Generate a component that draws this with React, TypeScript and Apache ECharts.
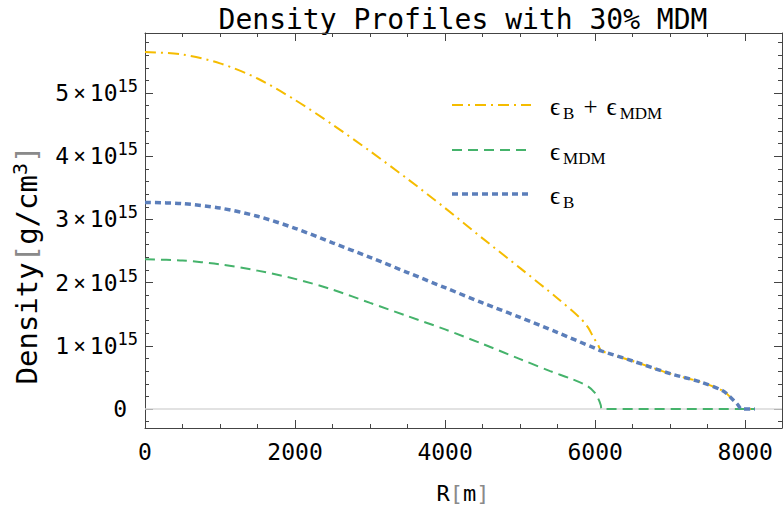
import React, { useEffect, useRef } from "react";
import * as echarts from "echarts";

// Density values in units of 1e15 g/cm^3, radius in metres
const radiusTotal = [0, 500, 1000, 1500, 2000, 2500, 3000, 3500, 4000, 4500, 5000, 5500, 5800, 5900, 5970, 6040, 6085, 6500, 7000, 7400, 7700, 7800, 7900, 7950, 8130];
const densityTotal = [5.65, 5.61, 5.47, 5.23, 4.89, 4.5, 4.08, 3.64, 3.18, 2.7, 2.23, 1.75, 1.44, 1.3, 1.15, 1.01, 0.92, 0.76, 0.56, 0.43, 0.29, 0.19, 0.07, 0, 0];

const radiusMDM = [0, 500, 1000, 1500, 2000, 2500, 3000, 3500, 4000, 4500, 5000, 5400, 5700, 5900, 6000, 6050, 6075, 6090, 8130];
const densityMDM = [2.37, 2.35, 2.29, 2.19, 2.06, 1.89, 1.68, 1.47, 1.26, 1.03, 0.79, 0.6, 0.47, 0.36, 0.25, 0.14, 0.06, 0, 0];

const radiusB = [0, 500, 1000, 1500, 2000, 2500, 3000, 3500, 4000, 4500, 5000, 5500, 6000, 6080, 6500, 7000, 7400, 7700, 7800, 7900, 7950, 8130];
const densityB = [3.27, 3.25, 3.18, 3.05, 2.86, 2.63, 2.4, 2.16, 1.92, 1.68, 1.45, 1.21, 0.96, 0.92, 0.76, 0.56, 0.43, 0.29, 0.19, 0.07, 0, 0];

const xMajorTicks = [0, 2000, 4000, 6000, 8000];
const yMajorTicks = [0, 1, 2, 3, 4, 5];
const X_MIN = 0;
const X_MAX = 8490;
const Y_MIN = -0.3;
const Y_MAX = 5.95;

const titleText = "Density Profiles with 30% MDM";
const legendLabels = [
  "{e|ϵ}{s|B}{p|+}{e|ϵ}{s|MDM}",
  "{e|ϵ}{s|MDM}",
  "{e|ϵ}{s|B}",
];

const COLOR_TOTAL = "#F5BC00";
const COLOR_MDM = "#45B36B";
const COLOR_B = "#5B7EBA";
const FRAME = "#444444";
const MONO = "DejaVu Sans Mono, monospace";
const SERIF = "Liberation Serif, DejaVu Serif, serif";

const zip = (xs: number[], ys: number[]) => xs.map((x, i) => [x, ys[i]]);

function minorValues(min: number, max: number, majorStep: number, parts: number): number[] {
  const out: number[] = [];
  const step = majorStep / parts;
  const start = Math.ceil(min / step);
  const end = Math.floor(max / step);
  for (let k = start; k <= end; k++) {
    if (k % parts !== 0) out.push(Math.round(k * step * 1000) / 1000);
  }
  return out;
}

export default function App() {
  const ref = useRef<HTMLDivElement>(null);
  useEffect(() => {
    if (!ref.current) return;
    const chart = echarts.init(ref.current, null, { renderer: "svg" });
    const lineStyle = { color: FRAME, width: 1 };
    const xMinor = minorValues(X_MIN, X_MAX, 2000, 4);
    const yMinor = minorValues(Y_MIN, Y_MAX, 1, 5);

    const xBase = {
      type: "value",
      min: X_MIN,
      max: X_MAX,
      splitLine: { show: false },
      minorTick: { show: false },
    };
    const yBase = {
      type: "value",
      min: Y_MIN,
      max: Y_MAX,
      splitLine: { show: false },
      minorTick: { show: false },
    };

    const legendLines = [
      { color: COLOR_TOTAL, width: 2, dash: [11, 5, 2, 5] },
      { color: COLOR_MDM, width: 2, dash: [10, 6] },
      { color: COLOR_B, width: 3.5, dash: [6, 4] },
    ];
    const legendY = [105, 150, 194];

    const graphics: any[] = [
      {
        type: "text",
        x: 463,
        y: 19,
        style: {
          text: titleText,
          font: `28px ${MONO}`,
          fill: "#000",
          textAlign: "center",
          textVerticalAlign: "middle",
        },
      },
      {
        type: "text",
        x: 27,
        y: 265,
        rotation: Math.PI / 2,
        style: {
          text: "Density{b|[}g/cm{sup|3}{b|]}",
          fontFamily: MONO,
          fontSize: 29,
          fill: "#000",
          align: "center",
          verticalAlign: "middle",
          rich: {
            b: { fontFamily: MONO, fontSize: 29, fill: "#8a8a8a" },
            sup: { fontFamily: MONO, fontSize: 20, padding: [0, 0, 15, 0] },
          },
        },
      },
      {
        type: "text",
        x: 463,
        y: 493,
        style: {
          text: "R{b|[}m{b|]}",
          fontFamily: MONO,
          fontSize: 22,
          fill: "#000",
          align: "center",
          verticalAlign: "middle",
          rich: {
            b: { fontFamily: MONO, fontSize: 22, fill: "#8a8a8a" },
          },
        },
      },
    ];
    legendLines.forEach((l, i) => {
      graphics.push({
        type: "line",
        shape: { x1: 452, y1: legendY[i], x2: 531, y2: legendY[i] },
        style: { stroke: l.color, lineWidth: l.width, lineDash: l.dash },
      });
      graphics.push({
        type: "text",
        x: 550,
        y: legendY[i] + 1,
        style: {
          text: legendLabels[i],
          fontFamily: SERIF,
          fontSize: 24,
          fill: "#000",
          align: "left",
          verticalAlign: "middle",
          rich: {
            e: { fontFamily: SERIF, fontSize: 25, fill: "#000" },
            p: { fontFamily: SERIF, fontSize: 25, fill: "#000", padding: [0, 9, 0, 9] },
            s: { fontFamily: SERIF, fontSize: 17, fill: "#000", padding: [14, 0, 0, 3] },
          },
        },
      });
    });

    const curve = (name: string, xs: number[], ys: number[], color: string, width: number, dash: number[], z: number) => ({
      name,
      type: "line",
      xAxisIndex: 0,
      yAxisIndex: 0,
      data: zip(xs, ys),
      symbol: "none",
      smooth: 0.3,
      z,
      lineStyle: { color, width, type: dash },
    });

    chart.setOption({
      animation: false,
      backgroundColor: "#ffffff",
      grid: { left: 145, right: 1, top: 33, bottom: 80, containLabel: false },
      xAxis: [
        {
          ...xBase,
          position: "bottom",
          axisLine: { show: true, onZero: false, lineStyle },
          axisTick: { show: true, inside: true, length: 8, lineStyle, customValues: xMajorTicks },
          axisLabel: {
            show: true,
            customValues: xMajorTicks,
            fontFamily: MONO,
            fontSize: 23,
            color: "#000",
            margin: 12,
            formatter: (v: number) => String(v),
          },
        },
        {
          ...xBase,
          position: "bottom",
          axisLine: { show: false, onZero: false },
          axisTick: { show: true, inside: true, length: 4, lineStyle, customValues: xMinor },
          axisLabel: { show: false },
        },
        {
          ...xBase,
          position: "top",
          axisLine: { show: true, onZero: false, lineStyle },
          axisTick: { show: true, inside: true, length: 8, lineStyle, customValues: xMajorTicks },
          axisLabel: { show: false },
        },
        {
          ...xBase,
          position: "top",
          axisLine: { show: false, onZero: false },
          axisTick: { show: true, inside: true, length: 4, lineStyle, customValues: xMinor },
          axisLabel: { show: false },
        },
      ],
      yAxis: [
        {
          ...yBase,
          position: "left",
          axisLine: { show: true, onZero: false, lineStyle },
          axisTick: { show: true, inside: true, length: 8, lineStyle, customValues: yMajorTicks },
          axisLabel: {
            show: true,
            customValues: yMajorTicks,
            fontFamily: MONO,
            fontSize: 23,
            color: "#000",
            margin: 7,
            formatter: (v: number) => (v === 0 ? "{z|0}" : `${v}{x|×}10{sup|15}`),
            rich: {
              z: { fontFamily: MONO, fontSize: 23, color: "#000", padding: [0, 11, 0, 0] },
              x: { fontFamily: MONO, fontSize: 21, color: "#000", padding: [0, 4, 0, 4] },
              sup: { fontFamily: MONO, fontSize: 17, color: "#000", padding: [0, 0, 14, 0] },
            },
          },
        },
        {
          ...yBase,
          position: "left",
          axisLine: { show: false, onZero: false },
          axisTick: { show: true, inside: true, length: 4, lineStyle, customValues: yMinor },
          axisLabel: { show: false },
        },
        {
          ...yBase,
          position: "right",
          axisLine: { show: true, onZero: false, lineStyle },
          axisTick: { show: true, inside: true, length: 8, lineStyle, customValues: yMajorTicks },
          axisLabel: { show: false },
        },
        {
          ...yBase,
          position: "right",
          axisLine: { show: false, onZero: false },
          axisTick: { show: true, inside: true, length: 4, lineStyle, customValues: yMinor },
          axisLabel: { show: false },
        },
      ],
      series: [
        {
          name: "zero",
          type: "line",
          xAxisIndex: 0,
          yAxisIndex: 0,
          data: [[X_MIN, 0], [X_MAX, 0]],
          symbol: "none",
          silent: true,
          z: 1,
          lineStyle: { color: "#d8d8d8", width: 1.5, type: "solid" },
        },
        curve("total", radiusTotal, densityTotal, COLOR_TOTAL, 2, [11, 5, 2, 5], 2),
        curve("MDM", radiusMDM, densityMDM, COLOR_MDM, 2, [10, 6], 3),
        curve("B", radiusB, densityB, COLOR_B, 3.5, [6, 4], 4),
      ],
      graphic: graphics,
    });
    return () => chart.dispose();
  }, []);
  return (
    <div
      ref={ref}
      style={{ position: "fixed", left: 0, top: 0, width: 783, height: 508 }}
    />
  );
}
